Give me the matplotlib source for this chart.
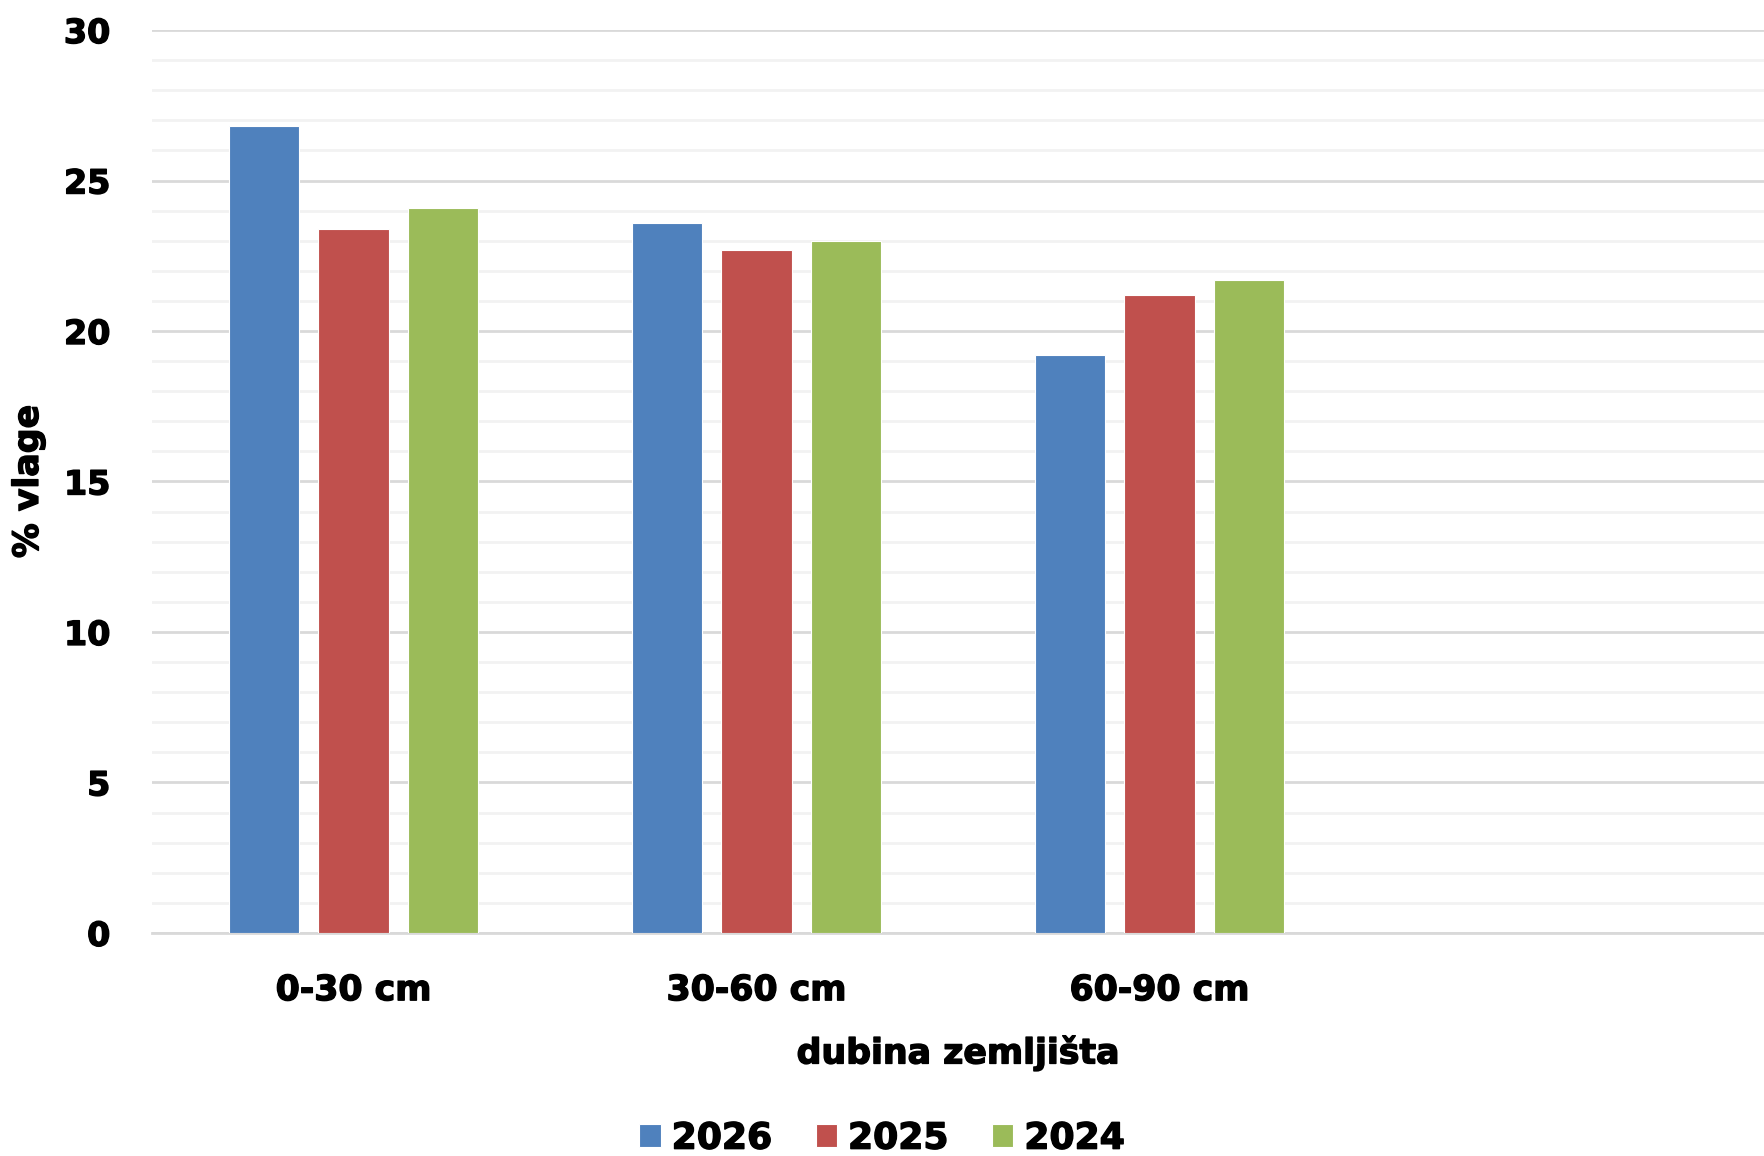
import numpy as np
import matplotlib.pyplot as plt
import matplotlib.patheffects as pe

categories = ['0-30 cm', '30-60 cm', '60-90 cm']
years = ['2026', '2025', '2024']
v2026 = [26.8, 23.6, 19.2]
v2025 = [23.4, 22.7, 21.2]
v2024 = [24.1, 23.0, 21.7]
colors = ['#4F81BD', '#C0504D', '#9BBB59']

plt.rcParams['font.family'] = ['DejaVu Sans']
plt.rcParams['font.weight'] = 'bold'
fx = [pe.withStroke(linewidth=1.0, foreground='black')]

fig = plt.figure(figsize=(17.64, 11.56), dpi=100)
ax = fig.add_axes([0.0862, 0.193, 0.9138, 0.781])

x = np.arange(len(categories))
w = 0.174
step = 0.222
for i, (vals, lab) in enumerate(zip([v2026, v2025, v2024], years)):
    ax.bar(x + (i - 1) * step, vals, w, color=colors[i], label=lab,
           edgecolor='white', linewidth=0.8, zorder=3)

ax.set_xlim(-0.5, 3.5)
ax.set_ylim(0, 30)
ax.set_yticks(np.arange(0, 31, 5))
ax.set_yticks(np.arange(0, 31, 1), minor=True)
ax.grid(axis='y', which='major', color='#d9d9d9', linewidth=2, zorder=0)
ax.grid(axis='y', which='minor', color='#f2f2f2', linewidth=2, zorder=0)
ax.set_axisbelow(True)
for s in ['top', 'right', 'left']:
    ax.spines[s].set_visible(False)
ax.spines['bottom'].set_color('#d9d9d9')
ax.spines['bottom'].set_linewidth(2)
ax.tick_params(axis='both', which='both', length=0)
ax.tick_params(axis='y', pad=30, labelsize=24)
ax.tick_params(axis='x', pad=29, labelsize=25)
ax.set_xticks(x)
ax.set_xticklabels(categories)
for t in ax.get_xticklabels() + ax.get_yticklabels():
    t.set_fontweight('bold')
    t.set_path_effects(fx)

ax.set_xlabel('dubina zemljišta', fontsize=25, fontweight='bold', labelpad=20,
              path_effects=fx)
ax.set_ylabel('% vlage', fontsize=25, fontweight='bold', va='center',
              path_effects=fx)
ax.yaxis.set_label_coords(-0.077, 0.5)

leg = fig.legend(loc='center', bbox_to_anchor=(0.5, 0.015), ncol=3, frameon=False,
                 fontsize=26, handlelength=0.6, handleheight=0.6, handletextpad=0.3,
                 columnspacing=1.2)
for t in leg.get_texts():
    t.set_fontweight('bold')
    t.set_path_effects(fx)

fig.savefig('out.png', dpi=100)
